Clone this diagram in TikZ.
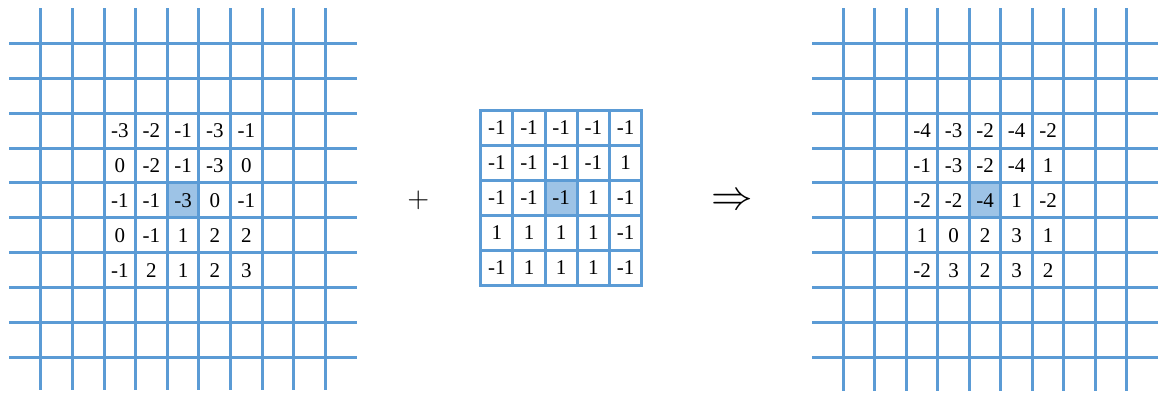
\documentclass[tikz,border=0pt]{standalone}
\usepackage{fontspec}
\setmainfont{Liberation Serif}
\definecolor{gridblue}{RGB}{91,155,213}
\definecolor{centrefill}{RGB}{157,195,230}

\begin{document}
\begin{tikzpicture}[x=0.5pt, y=-0.5pt,
  gline/.style={draw=gridblue, line width=1.5pt},
  kline/.style={gline, line cap=rect},
  val/.style={font=\fontsize{10.5}{12}\selectfont, inner sep=0},
  op/.style={inner sep=0},
]
\useasboundingbox (0,0) rectangle (1158,397);
% ---- centre cells (under the lines)
\fill[centrefill] (167.3,183.2) rectangle (199,218.1);
\fill[centrefill] (545,180.7) rectangle (576.7,215.8);
\fill[centrefill] (969.3,183.2) rectangle (1000.8,218.1);
% ---- left grid: image
\foreach \i in {0,...,9} {
  \draw[gline] ({40.7+31.65*\i},8) -- ({40.7+31.65*\i},390);
  \draw[gline] (9,{43.3+34.9*\i}) -- (357,{43.3+34.9*\i});
}
\foreach \row [count=\r] in {{-3,-2,-1,-3,-1},{0,-2,-1,-3,0},{-1,-1,-3,0,-1},
                            {0,-1,1,2,2},{-1,2,1,2,3}} {
  \foreach \v [count=\c] in \row {
    \node[val] (in-\r-\c) at ({40.7+31.65*(\c+1.5)},{43.3+34.9*(\r+1.5)}) {\v};
  }
}
% ---- kernel
\foreach \i in {0,...,5} {
  \draw[kline] ({480.7+32.2*\i},110) -- ({480.7+32.2*\i},285);
  \draw[kline] (480.7,{110+35*\i}) -- (641.7,{110+35*\i});
}
\foreach \row [count=\r] in {{-1,-1,-1,-1,-1},{-1,-1,-1,-1,1},{-1,-1,-1,1,-1},
                            {1,1,1,1,-1},{-1,1,1,1,-1}} {
  \foreach \v [count=\c] in \row {
    \node[val] (ker-\r-\c) at ({480.7+32.2*(\c-0.5)},{110+35*(\r-0.5)}) {\v};
  }
}
% ---- right grid: result
\foreach \i in {0,...,9} {
  \draw[gline] ({843.3+31.5*\i},8) -- ({843.3+31.5*\i},391);
  \draw[gline] (812,{43.3+34.9*\i}) -- (1158,{43.3+34.9*\i});
}
\foreach \row [count=\r] in {{-4,-3,-2,-4,-2},{-1,-3,-2,-4,1},{-2,-2,-4,1,-2},
                            {1,0,2,3,1},{-2,3,2,3,2}} {
  \foreach \v [count=\c] in \row {
    \node[val] (out-\r-\c) at ({843.3+31.5*(\c+1.5)},{43.3+34.9*(\r+1.5)}) {\v};
  }
}
% operators
\node[op, font=\fontsize{15}{18}\selectfont] (plus) at (418.3,200.7) {$+$};
\node[op, font=\fontsize{20}{24}\selectfont] (yields) at (732,201.5) {$\Rightarrow$};
\end{tikzpicture}
\end{document}
